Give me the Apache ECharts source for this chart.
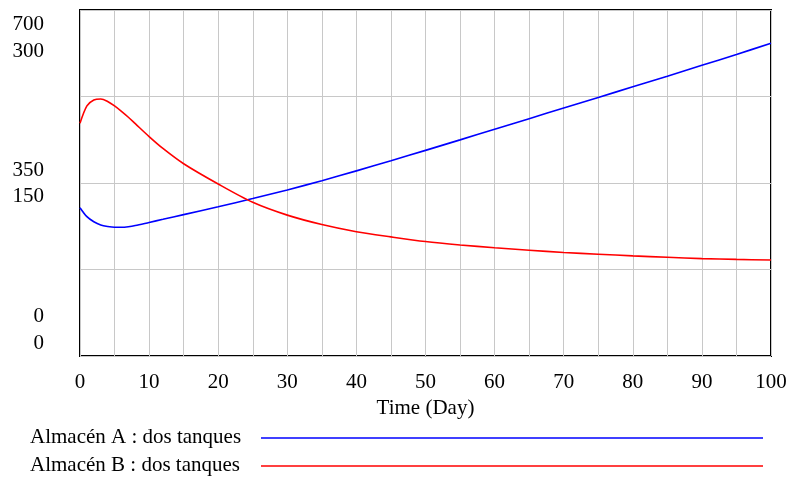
<!DOCTYPE html>
<html><head><meta charset="utf-8">
<script src="https://cdn.jsdelivr.net/npm/echarts@6/dist/echarts.min.js"></script>
<style>html,body{margin:0;padding:0;background:#fff}#c{width:790px;height:479px}</style>
</head><body><div id="c"></div>
<script>
var times = [0,1,2,3,4,5,6,7,8,10,12,15,20,25,30,35,40,45,50,55,60,65,70,75,80,85,90,95,100];
var almacenA = [128.6,120.8,116.4,113.6,112.3,111.6,111.6,112.1,113.1,115.8,118.5,122.6,129.4,136.5,144,152,160.5,169.3,178.3,187.4,196.6,205.8,215,224.2,233.4,242.6,252,261.5,271.1];
var almacenB = [470.8,506,518,520,515,506,495,483,470,444,420,389,348,311,285,266,251.5,241,231.5,224.6,219,214,209.5,206,202.5,199.7,197,195.4,194.2];
var xTicks = [0,10,20,30,40,50,60,70,80,90,100];
var ticksA = [0,150,300];
var ticksB = [0,350,700];
var seriesNames = ['Almacén A : dos tanques','Almacén B : dos tanques'];
var colors = ['#0000ff','#ff0000'];
var xTitle = 'Time (Day)';

var FONT = '"Liberation Serif", "Times New Roman", serif';
var FS = 21;
var chart = echarts.init(document.getElementById('c'));
function pairs(v){return times.map(function(t,i){return [t,v[i]];});}
chart.setOption({
  animation:false,
  grid:{left:80,right:19,top:10,bottom:123,show:true,borderColor:'#000',borderWidth:2,backgroundColor:'transparent'},
  xAxis:{type:'value',min:0,max:100,interval:5,
    axisLine:{show:false},axisTick:{show:false},
    splitLine:{show:true,lineStyle:{color:'#c8c8c8',width:1}},
    axisLabel:{fontFamily:FONT,fontSize:FS,color:'#000',margin:16,
      formatter:function(v){return xTicks.indexOf(v)>=0?String(v):'';}},
    name:xTitle,nameLocation:'middle',nameGap:39,
    nameTextStyle:{fontFamily:FONT,fontSize:FS,color:'#000'}},
  yAxis:[
    {type:'value',min:0,max:300,interval:75,axisLine:{show:false},axisTick:{show:false},
      splitLine:{show:true,lineStyle:{color:'#c8c8c8',width:1}},axisLabel:{show:false}},
    {type:'value',min:0,max:700,interval:175,axisLine:{show:false},axisTick:{show:false},
      splitLine:{show:false},axisLabel:{show:false},position:'left'}
  ],
  series:[
    {name:seriesNames[0],type:'line',yAxisIndex:0,data:pairs(almacenA),showSymbol:false,smooth:0.3,
      lineStyle:{color:colors[0],width:1.6},z:3},
    {name:seriesNames[1],type:'line',yAxisIndex:1,data:pairs(almacenB),showSymbol:false,smooth:0.3,
      lineStyle:{color:colors[1],width:1.6},z:3}
  ]
});
// stacked y labels Vensim-style
var offB = [-40,-13,14.5];
var offA = [-12.5,13.7,41];
var g = [];
for (var i=0;i<3;i++){
  var yb = chart.convertToPixel({yAxisIndex:1}, ticksB[i]);
  var ya = chart.convertToPixel({yAxisIndex:0}, ticksA[i]);
  g.push({type:'text',x:44,y:yb+offB[i],style:{text:String(ticksB[i]),font:FS+'px '+FONT,fill:'#000',textAlign:'right',textVerticalAlign:'middle'}});
  g.push({type:'text',x:44,y:ya+offA[i],style:{text:String(ticksA[i]),font:FS+'px '+FONT,fill:'#000',textAlign:'right',textVerticalAlign:'middle'}});
}
// legend
var legY = [438,466];
for (var j=0;j<2;j++){
  g.push({type:'text',x:30,y:legY[j]-1,style:{text:seriesNames[j],font:FS+'px '+FONT,fill:'#000',textAlign:'left',textVerticalAlign:'middle'}});
  g.push({type:'line',shape:{x1:261,y1:legY[j],x2:763,y2:legY[j]},style:{stroke:colors[j],lineWidth:1.6}});
}
chart.setOption({graphic:g});
</script></body></html>
